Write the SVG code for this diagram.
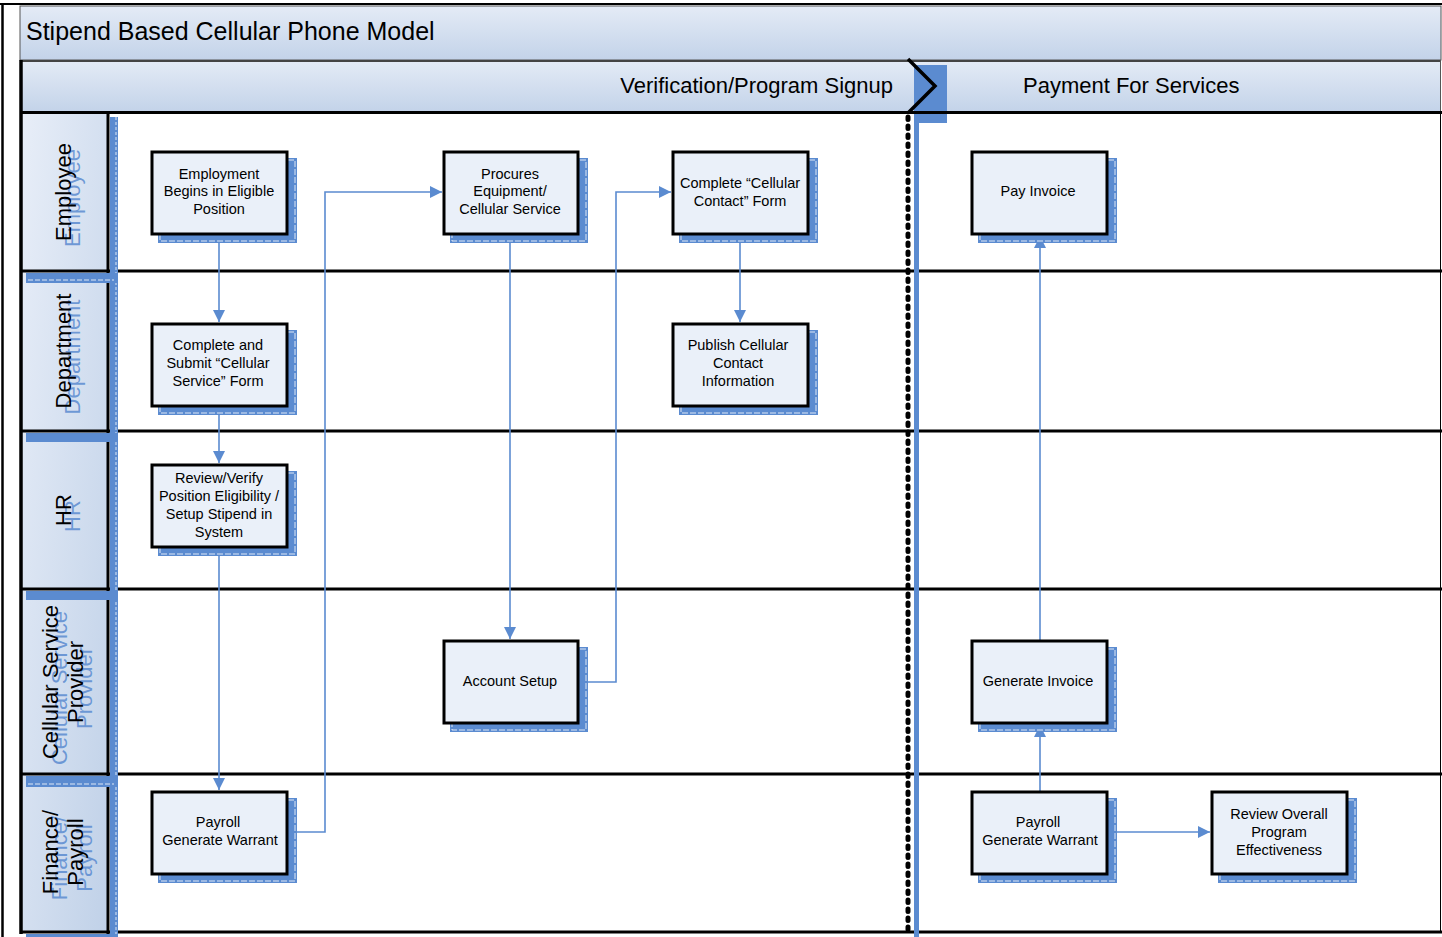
<svg xmlns="http://www.w3.org/2000/svg" width="1442" height="937" viewBox="0 0 1442 937">
<defs>
<linearGradient id="hdr" x1="0" y1="0" x2="0" y2="1">
<stop offset="0" stop-color="#e4ebf6"/>
<stop offset="1" stop-color="#c3d3e9"/>
</linearGradient>
<linearGradient id="lbl" x1="0" y1="0" x2="1" y2="1">
<stop offset="0" stop-color="#e8eef8"/>
<stop offset="1" stop-color="#c0d1e8"/>
</linearGradient>
<marker id="arr" markerUnits="userSpaceOnUse" markerWidth="12" markerHeight="12" viewBox="0 0 12 12" refX="12" refY="6" orient="auto">
<path d="M0,0 L12,6 L0,12 z" fill="#5b8bd0"/>
</marker>
<style>
.title{font-family:"Liberation Sans",Arial,sans-serif;font-size:25px;fill:#000}
.phase{font-family:"Liberation Sans",Arial,sans-serif;font-size:22px;fill:#000}
.lane{font-family:"Liberation Sans",Arial,sans-serif;font-size:22px;fill:#000;text-anchor:middle}
.ghost{font-family:"Liberation Sans",Arial,sans-serif;font-size:22px;fill:#5b8bd0;fill-opacity:0.85;text-anchor:middle}
.lblbox{fill:url(#lbl)}
.shadow{fill:#5b8bd0}
.shline{fill:none;stroke:#ffffff;stroke-width:1;stroke-dasharray:6 2;opacity:0.8}
.box{fill:#eaf0f9;stroke:#000;stroke-width:3}
.nt{font-family:"Liberation Sans",Arial,sans-serif;font-size:14.5px;fill:#000;text-anchor:middle}
.conn{fill:none;stroke:#5b8bd0;stroke-width:1.6;marker-end:url(#arr)}
.lline{stroke:#000;stroke-width:3}
</style>
</defs>
<rect x="0" y="0" width="1442" height="937" fill="#ffffff"/>

<!-- outer frame -->
<line x1="0" y1="4" x2="1442" y2="4" stroke="#000" stroke-width="2"/>
<line x1="2.5" y1="4" x2="2.5" y2="937" stroke="#000" stroke-width="2.5"/>

<!-- title bar -->
<g id="title">
<rect x="20" y="6" width="1421" height="54" fill="url(#hdr)" stroke="#555" stroke-width="1"/>
<text class="title" x="26" y="40">Stipend Based Cellular Phone Model</text>
</g>

<!-- phase header -->
<g id="phases">
<rect x="20" y="60" width="1421" height="52" fill="url(#hdr)"/>
<line x1="20" y1="61" x2="1441" y2="61" stroke="#444" stroke-width="2"/>
<line x1="1440.5" y1="60" x2="1440.5" y2="112" stroke="#555" stroke-width="1"/>
<rect x="914" y="65" width="33" height="58" fill="#5b8bd0"/>
<polyline points="908,59 935,86 908,113" fill="none" stroke="#000" stroke-width="3.5"/>
<text class="phase" x="893" y="93" text-anchor="end">Verification/Program Signup</text>
<text class="phase" x="1023" y="93">Payment For Services</text>
</g>

<!-- lane labels -->
<g id="lane-labels">
<rect class="lblbox" x="21" y="113" width="87" height="819"/>
</g>

<!-- lane structure lines -->
<g id="lanes">
<line class="lline" x1="20" y1="112.5" x2="1442" y2="112.5"/>
<line class="lline" x1="20" y1="271" x2="1442" y2="271"/>
<line class="lline" x1="20" y1="431" x2="1442" y2="431"/>
<line class="lline" x1="20" y1="589" x2="1442" y2="589"/>
<line class="lline" x1="20" y1="774" x2="1442" y2="774"/>
<line class="lline" x1="20" y1="932" x2="1442" y2="932"/>
<line x1="21" y1="60" x2="21" y2="934" stroke="#000" stroke-width="3.5"/>
<line x1="108" y1="113" x2="108" y2="934" stroke="#000" stroke-width="3"/>
<line x1="1440.5" y1="112" x2="1440.5" y2="932" stroke="#000" stroke-width="1"/>
<!-- blue label shadow strips -->
<rect class="shadow" x="110" y="117" width="8" height="820"/>
<line x1="116" y1="117" x2="116" y2="937" stroke="#fff" stroke-width="0.8" stroke-dasharray="3 2"/>
<rect class="shadow" x="26" y="273" width="92" height="10"/>
<rect class="shadow" x="26" y="433" width="92" height="9"/>
<rect class="shadow" x="26" y="591" width="92" height="9"/>
<rect class="shadow" x="26" y="776" width="92" height="11"/>
<rect class="shadow" x="26" y="934" width="92" height="3"/>
<line x1="28" y1="280" x2="114" y2="280" stroke="#fff" stroke-width="0.8" stroke-dasharray="5 2"/>
<line x1="28" y1="784" x2="114" y2="784" stroke="#fff" stroke-width="0.8" stroke-dasharray="5 2"/>
</g>

<!-- lane label texts -->
<g id="lane-employee">
<text class="ghost" transform="translate(9,198) rotate(-90)" x="0" y="71">Employee</text>
<text class="lane" transform="translate(0,192) rotate(-90)" x="0" y="71">Employee</text>
</g>
<g id="lane-department">
<text class="ghost" transform="translate(9,357) rotate(-90)" x="0" y="71">Department</text>
<text class="lane" transform="translate(0,351) rotate(-90)" x="0" y="71">Department</text>
</g>
<g id="lane-hr">
<text class="ghost" transform="translate(9,516) rotate(-90)" x="0" y="71">HR</text>
<text class="lane" transform="translate(0,510) rotate(-90)" x="0" y="71">HR</text>
</g>
<g id="lane-csp">
<text class="ghost" transform="translate(9,688) rotate(-90)" x="0" y="58">Cellular Service</text>
<text class="ghost" transform="translate(9,688) rotate(-90)" x="0" y="83">Provider</text>
<text class="lane" transform="translate(0,682) rotate(-90)" x="0" y="58">Cellular Service</text>
<text class="lane" transform="translate(0,682) rotate(-90)" x="0" y="83">Provider</text>
</g>
<g id="lane-finance">
<text class="ghost" transform="translate(9,858) rotate(-90)" x="0" y="58">Finance/</text>
<text class="ghost" transform="translate(9,858) rotate(-90)" x="0" y="83">Payroll</text>
<text class="lane" transform="translate(0,852) rotate(-90)" x="0" y="58">Finance/</text>
<text class="lane" transform="translate(0,852) rotate(-90)" x="0" y="83">Payroll</text>
</g>

<!-- phase divider -->
<g id="divider">
<line x1="916.5" y1="123" x2="916.5" y2="937" stroke="#5b8bd0" stroke-width="5"/>
<line x1="908" y1="117" x2="908" y2="930" stroke="#000" stroke-width="5" stroke-linecap="round" stroke-dasharray="2.5 6.5"/>
</g>

<!-- connectors -->
<g id="connectors">
<path class="conn" d="M219,235 L219,322"/>
<path class="conn" d="M219,407 L219,463"/>
<path class="conn" d="M219,548 L219,790"/>
<path class="conn" d="M288,832 L325,832 L325,192 L442,192"/>
<path class="conn" d="M510,235 L510,639"/>
<path class="conn" d="M579,682 L616,682 L616,192 L671,192"/>
<path class="conn" d="M740,235 L740,322"/>
<path class="conn" d="M1040,791 L1040,725"/>
<path class="conn" d="M1040,640 L1040,236"/>
<path class="conn" d="M1108,832 L1210,832"/>
</g>

<!-- nodes -->
<g id="n1">
<rect class="shadow" x="158" y="158" width="139" height="85"/>
<rect class="shline" x="160" y="160" width="135" height="81"/>
<rect class="box" x="152" y="152" width="135" height="82"/>
<text class="nt" x="219" y="179">Employment</text>
<text class="nt" x="219" y="196">Begins in Eligible</text>
<text class="nt" x="219" y="214">Position</text>
</g>
<g id="n2">
<rect class="shadow" x="450" y="158" width="138" height="85"/>
<rect class="shline" x="452" y="160" width="134" height="81"/>
<rect class="box" x="444" y="152" width="134" height="82"/>
<text class="nt" x="510" y="179">Procures</text>
<text class="nt" x="510" y="196">Equipment/</text>
<text class="nt" x="510" y="214">Cellular Service</text>
</g>
<g id="n3">
<rect class="shadow" x="679" y="158" width="139" height="85"/>
<rect class="shline" x="681" y="160" width="135" height="81"/>
<rect class="box" x="673" y="152" width="135" height="82"/>
<text class="nt" x="740" y="188">Complete “Cellular</text>
<text class="nt" x="740" y="206">Contact” Form</text>
</g>
<g id="n4">
<rect class="shadow" x="978" y="158" width="139" height="85"/>
<rect class="shline" x="980" y="160" width="135" height="81"/>
<rect class="box" x="972" y="152" width="135" height="82"/>
<text class="nt" x="1038" y="196">Pay Invoice</text>
</g>
<g id="n5">
<rect class="shadow" x="158" y="330" width="139" height="85"/>
<rect class="shline" x="160" y="332" width="135" height="81"/>
<rect class="box" x="152" y="324" width="135" height="82"/>
<text class="nt" x="218" y="350">Complete and</text>
<text class="nt" x="218" y="368">Submit “Cellular</text>
<text class="nt" x="218" y="386">Service” Form</text>
</g>
<g id="n6">
<rect class="shadow" x="679" y="330" width="139" height="85"/>
<rect class="shline" x="681" y="332" width="135" height="81"/>
<rect class="box" x="673" y="324" width="135" height="82"/>
<text class="nt" x="738" y="350">Publish Cellular</text>
<text class="nt" x="738" y="368">Contact</text>
<text class="nt" x="738" y="386">Information</text>
</g>
<g id="n7">
<rect class="shadow" x="158" y="471" width="139" height="85"/>
<rect class="shline" x="160" y="473" width="135" height="81"/>
<rect class="box" x="152" y="465" width="135" height="82"/>
<text class="nt" x="219" y="483">Review/Verify</text>
<text class="nt" x="219" y="501">Position Eligibility /</text>
<text class="nt" x="219" y="519">Setup Stipend in</text>
<text class="nt" x="219" y="537">System</text>
</g>
<g id="n8">
<rect class="shadow" x="450" y="647" width="138" height="85"/>
<rect class="shline" x="452" y="649" width="134" height="81"/>
<rect class="box" x="444" y="641" width="134" height="82"/>
<text class="nt" x="510" y="686">Account Setup</text>
</g>
<g id="n9">
<rect class="shadow" x="978" y="647" width="139" height="85"/>
<rect class="shline" x="980" y="649" width="135" height="81"/>
<rect class="box" x="972" y="641" width="135" height="82"/>
<text class="nt" x="1038" y="686">Generate Invoice</text>
</g>
<g id="n10">
<rect class="shadow" x="158" y="798" width="139" height="85"/>
<rect class="shline" x="160" y="800" width="135" height="81"/>
<rect class="box" x="152" y="792" width="135" height="82"/>
<text class="nt" x="218" y="827">Payroll</text>
<text class="nt" x="220" y="845">Generate Warrant</text>
</g>
<g id="n11">
<rect class="shadow" x="978" y="798" width="139" height="85"/>
<rect class="shline" x="980" y="800" width="135" height="81"/>
<rect class="box" x="972" y="792" width="135" height="82"/>
<text class="nt" x="1038" y="827">Payroll</text>
<text class="nt" x="1040" y="845">Generate Warrant</text>
</g>
<g id="n12">
<rect class="shadow" x="1218" y="798" width="139" height="85"/>
<rect class="shline" x="1220" y="800" width="135" height="81"/>
<rect class="box" x="1212" y="792" width="135" height="82"/>
<text class="nt" x="1279" y="819">Review Overall</text>
<text class="nt" x="1279" y="837">Program</text>
<text class="nt" x="1279" y="855">Effectiveness</text>
</g>
</svg>
